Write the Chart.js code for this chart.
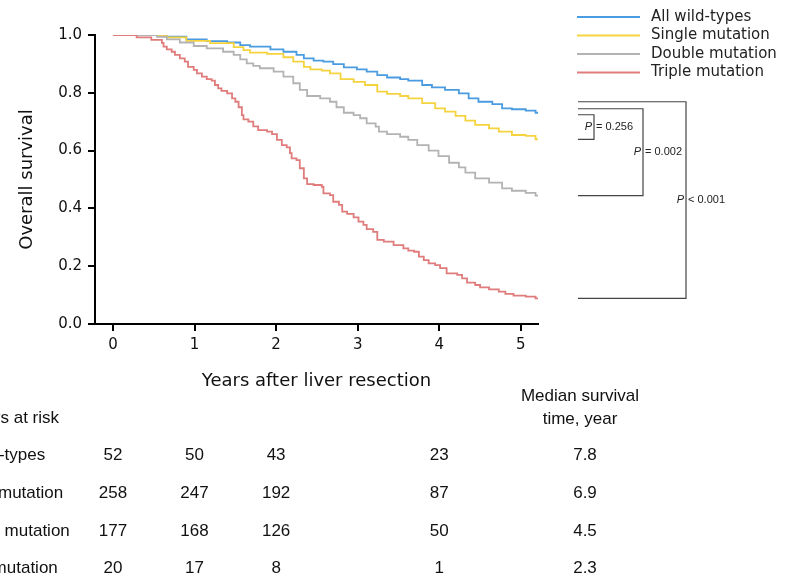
<!DOCTYPE html>
<html>
<head>
<meta charset="utf-8">
<script src="https://cdn.jsdelivr.net/npm/chart.js@4.4.0/dist/chart.umd.min.js"></script>
<style>
  html, body { margin: 0; padding: 0; background: #fff; }
  #wrap { width: 792px; height: 575px; position: relative; }
</style>
</head>
<body>
<div id="wrap"><canvas id="chart" width="792" height="575"></canvas></div>
<script>
// groups and curve data (years, survival)
const groups = ['All wild-types', 'Single mutation', 'Double mutation', 'Triple mutation'];
const colors = ['#4a9be0', '#f5d33f', '#b3b3b3', '#e07c7c'];

const wildT = [0, 0.47, 0.66, 0.90, 1.15, 1.40, 1.56, 1.68, 1.93, 2.09, 2.25, 2.34, 2.46, 2.58, 2.70, 2.83, 2.99, 3.11, 3.24, 3.36, 3.52, 3.62, 3.79, 3.91, 4.07, 4.24, 4.36, 4.48, 4.65, 4.77, 4.89, 5.06, 5.18, 5.21];
const wildS = [1.0, 1.0, 0.994, 0.985, 0.979, 0.974, 0.965, 0.960, 0.950, 0.942, 0.931, 0.919, 0.911, 0.908, 0.899, 0.888, 0.881, 0.873, 0.861, 0.853, 0.847, 0.842, 0.827, 0.819, 0.810, 0.798, 0.781, 0.769, 0.761, 0.746, 0.743, 0.738, 0.731, 0.731];

const singleT = [0, 0.66, 0.90, 1.19, 1.48, 1.60, 1.68, 1.89, 2.09, 2.21, 2.34, 2.42, 2.56, 2.66, 2.79, 2.95, 3.09, 3.24, 3.36, 3.52, 3.62, 3.79, 3.95, 4.07, 4.20, 4.32, 4.44, 4.61, 4.73, 4.89, 5.06, 5.18, 5.21];
const singleS = [1.0, 0.992, 0.980, 0.972, 0.958, 0.948, 0.939, 0.935, 0.923, 0.908, 0.890, 0.881, 0.877, 0.867, 0.847, 0.838, 0.827, 0.804, 0.796, 0.789, 0.781, 0.764, 0.746, 0.735, 0.720, 0.704, 0.689, 0.677, 0.666, 0.654, 0.651, 0.639, 0.639];

const doubleT = [0, 0.54, 0.66, 0.82, 0.99, 1.15, 1.35, 1.48, 1.56, 1.64, 1.72, 1.80, 1.97, 2.09, 2.21, 2.29, 2.38, 2.54, 2.66, 2.74, 2.83, 2.95, 3.03, 3.11, 3.22, 3.26, 3.36, 3.52, 3.62, 3.73, 3.87, 3.99, 4.12, 4.24, 4.32, 4.44, 4.61, 4.77, 4.89, 5.06, 5.18, 5.21];
const doubleS = [1.0, 0.994, 0.985, 0.974, 0.962, 0.954, 0.942, 0.931, 0.916, 0.902, 0.893, 0.885, 0.873, 0.856, 0.833, 0.810, 0.789, 0.781, 0.769, 0.750, 0.731, 0.723, 0.712, 0.694, 0.683, 0.666, 0.657, 0.648, 0.637, 0.619, 0.600, 0.581, 0.558, 0.542, 0.524, 0.504, 0.489, 0.469, 0.461, 0.454, 0.444, 0.444];

const tripleT = [0, 0.29, 0.47, 0.60, 0.62, 0.66, 0.72, 0.76, 0.82, 0.88, 0.92, 0.99, 1.03, 1.09, 1.15, 1.21, 1.25, 1.29, 1.33, 1.40, 1.46, 1.50, 1.54, 1.58, 1.60, 1.66, 1.72, 1.78, 1.89, 1.95, 2.01, 2.07, 2.13, 2.17, 2.19, 2.25, 2.29, 2.34, 2.38, 2.46, 2.56, 2.58, 2.66, 2.70, 2.77, 2.81, 2.87, 2.95, 3.01, 3.07, 3.11, 3.19, 3.24, 3.32, 3.44, 3.56, 3.62, 3.69, 3.75, 3.81, 3.87, 3.95, 4.01, 4.09, 4.22, 4.28, 4.34, 4.44, 4.50, 4.61, 4.73, 4.81, 4.91, 5.06, 5.18, 5.21];
const tripleS = [1.0, 0.992, 0.983, 0.973, 0.960, 0.950, 0.942, 0.931, 0.919, 0.908, 0.890, 0.879, 0.867, 0.856, 0.847, 0.842, 0.827, 0.815, 0.807, 0.798, 0.781, 0.769, 0.750, 0.723, 0.708, 0.700, 0.684, 0.671, 0.666, 0.657, 0.637, 0.619, 0.611, 0.591, 0.573, 0.567, 0.539, 0.504, 0.484, 0.481, 0.475, 0.452, 0.446, 0.423, 0.412, 0.389, 0.381, 0.369, 0.354, 0.343, 0.328, 0.319, 0.291, 0.285, 0.273, 0.262, 0.254, 0.250, 0.233, 0.221, 0.210, 0.204, 0.193, 0.175, 0.170, 0.158, 0.143, 0.135, 0.127, 0.120, 0.112, 0.104, 0.098, 0.095, 0.089, 0.089];

const xTicks = [0, 1, 2, 3, 4, 5];
const yTicks = [0, 0.2, 0.4, 0.6, 0.8, 1.0];

// numbers at risk
const riskTimes = [0, 1, 2, 4];
const riskWild = [52, 50, 43, 23];
const riskSingle = [258, 247, 192, 87];
const riskDouble = [177, 168, 126, 50];
const riskTriple = [20, 17, 8, 1];
const medianSurvival = ['7.8', '6.9', '4.5', '2.3'];
const pValues = ['= 0.256', '= 0.002', '< 0.001'];

const series = [[wildT, wildS], [singleT, singleS], [doubleT, doubleS], [tripleT, tripleS]];
const risks = [riskWild, riskSingle, riskDouble, riskTriple];

const tableFont = '17px "Liberation Sans", Arial, sans-serif';

const extras = {
  id: 'extras',
  afterDraw(chart) {
    const ctx = chart.ctx;
    const xs = chart.scales.x, ys = chart.scales.y;
    ctx.save();

    // legend
    ctx.font = '15px "DejaVu Sans"';
    ctx.textBaseline = 'middle';
    ctx.textAlign = 'left';
    groups.forEach((g, i) => {
      const y = 17 + i * 18.5;
      ctx.strokeStyle = colors[i];
      ctx.lineWidth = 1.8;
      ctx.beginPath();
      ctx.moveTo(577, y);
      ctx.lineTo(640, y);
      ctx.stroke();
      ctx.fillStyle = '#222';
      ctx.fillText(g, 651, y);
    });

    // P-value brackets
    const yWild = ys.getPixelForValue(wildS[wildS.length - 1]);
    const tops = [yWild + 2, yWild - 4, yWild - 11];
    const bottoms = [singleS, doubleS, tripleS].map(s => ys.getPixelForValue(s[s.length - 1]));
    const vx = [594, 643, 686];
    ctx.strokeStyle = '#444';
    ctx.lineWidth = 1.2;
    pValues.forEach((p, i) => {
      ctx.beginPath();
      ctx.moveTo(578, tops[i]);
      ctx.lineTo(vx[i], tops[i]);
      ctx.lineTo(vx[i], bottoms[i]);
      ctx.lineTo(578, bottoms[i]);
      ctx.stroke();
      const my = (tops[i] + bottoms[i]) / 2;
      ctx.fillStyle = '#222';
      ctx.font = 'italic 11px "Liberation Sans"';
      ctx.textAlign = 'right';
      ctx.fillText('P', vx[i] - 2, my);
      ctx.font = '11px "Liberation Sans"';
      ctx.textAlign = 'left';
      ctx.fillText(p, vx[i] + 2, my);
    });

    // risk table
    ctx.font = tableFont;
    ctx.fillStyle = '#111';
    ctx.textAlign = 'left';
    ctx.fillText('Numbers at risk', -60, 418);
    ctx.textAlign = 'center';
    ctx.fillText('Median survival', 580, 396);
    ctx.fillText('time, year', 580, 419);
    const rowY = [455, 493, 531, 568];
    groups.forEach((g, i) => {
      ctx.textAlign = 'left';
      ctx.fillText(g, -54, rowY[i]);
      ctx.textAlign = 'center';
      risks[i].forEach((n, j) => {
        ctx.fillText(String(n), xs.getPixelForValue(riskTimes[j]), rowY[i]);
      });
      ctx.fillText(medianSurvival[i], 585, rowY[i]);
    });
    ctx.restore();
  }
};

const ctx = document.getElementById('chart').getContext('2d');
const chart = new Chart(ctx, {
  type: 'line',
  data: {
    datasets: series.map(([t, s], i) => ({
      label: groups[i],
      data: t.map((x, k) => ({ x: x, y: s[k] })),
      borderColor: colors[i],
      borderWidth: 1.8,
      pointRadius: 0,
      stepped: true,
      fill: false,
      order: [3, 2, 1, 0][i]
    }))
  },
  options: {
    responsive: false,
    animation: false,
    layout: { padding: { top: 35, right: 254, left: 0, bottom: 0 } },
    plugins: { legend: { display: false }, tooltip: { enabled: false } },
    scales: {
      x: {
        type: 'linear',
        min: -0.22,
        max: 5.21,
        afterBuildTicks: (scale) => { scale.ticks = xTicks.map(v => ({ value: v })); },
        afterFit: (scale) => { scale.height = 251; },
        grid: { display: true, drawOnChartArea: false, drawTicks: true, tickLength: 7, color: '#000', lineWidth: 2 },
        border: { display: true, color: '#000', width: 2 },
        ticks: { font: { family: 'DejaVu Sans', size: 15 }, color: '#111', padding: 5, maxRotation: 0 },
        title: {
          display: true,
          text: 'Years after liver resection',
          font: { family: 'DejaVu Sans', size: 18 },
          color: '#111',
          padding: { top: 0, bottom: 183 }
        }
      },
      y: {
        min: 0,
        max: 1,
        afterBuildTicks: (scale) => { scale.ticks = yTicks.map(v => ({ value: v })); },
        afterFit: (scale) => { scale.width = 95; },
        grid: { display: true, drawOnChartArea: false, drawTicks: true, tickLength: 7, color: '#000', lineWidth: 2 },
        border: { display: true, color: '#000', width: 2 },
        ticks: {
          font: { family: 'DejaVu Sans', size: 15 },
          color: '#111',
          padding: 6,
          callback: (v) => Number(v).toFixed(1)
        },
        title: {
          display: true,
          text: 'Overall survival',
          font: { family: 'DejaVu Sans', size: 18 },
          color: '#111',
          padding: { top: 17, bottom: 0 }
        }
      }
    }
  },
  plugins: [extras]
});
</script>
</body>
</html>
